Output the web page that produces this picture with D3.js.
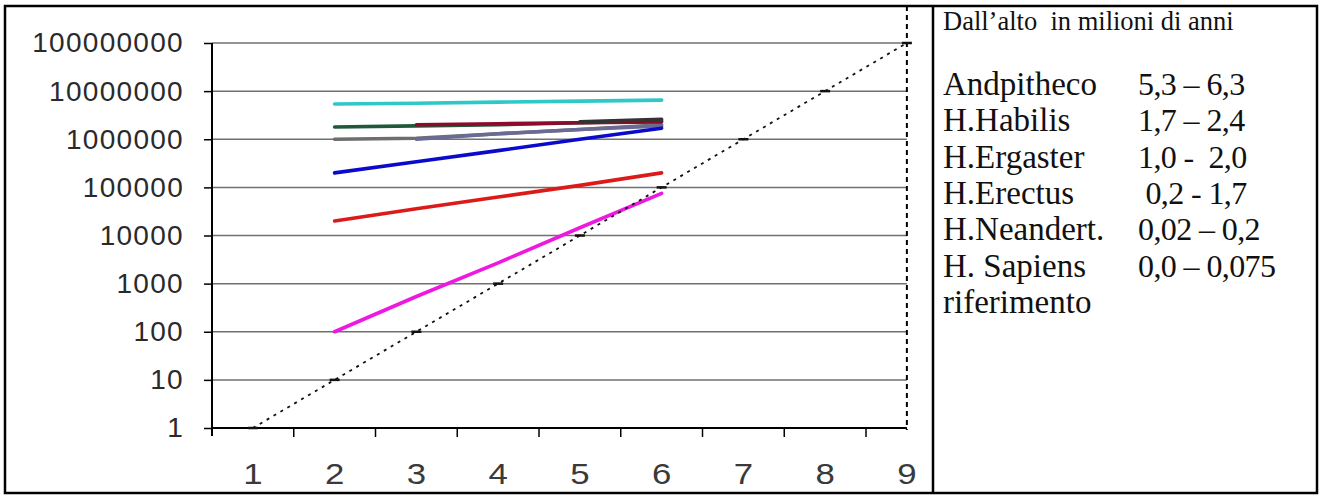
<!DOCTYPE html>
<html>
<head>
<meta charset="utf-8">
<script src="https://cdn.jsdelivr.net/npm/d3@7"></script>
<style>
  body { margin: 0; background: #fff; }
  svg { display: block; }
  .serif { font-family: "Liberation Serif", "Times New Roman", serif; fill: #111; white-space: pre; }
</style>
</head>
<body>
<svg id="chart" width="1320" height="496"></svg>
<script>
// data {{{ //
const categories = [1, 2, 3, 4, 5, 6, 7, 8, 9];
const yTicks = [1, 10, 100, 1000, 10000, 100000, 1000000, 10000000, 100000000];

// species lines, values at categories 2..6
const seriesCats = [2, 3, 4, 5, 6];
const andpitheco = [5.4e6, 5.6e6, 5.9e6, 6.2e6, 6.5e6];
const habilis    = [1.8e6, 1.9e6, 2.0e6, 2.2e6, 2.4e6];
const habilis2   = [null, 2.0e6, 2.1e6, 2.2e6, 2.3e6];
const ergaster   = [1.0e6, 1.05e6, 1.3e6, 1.6e6, 2.0e6];
const ergaster2  = [null, 1.0e6, 1.3e6, 1.6e6, 1.9e6];
const extra      = [null, null, null, 2.3e6, 2.6e6];
const erectus    = [2.0e5, 3.4e5, 5.8e5, 1.0e6, 1.7e6];
const neandert   = [2.0e4, 3.6e4, 6.3e4, 1.1e5, 2.0e5];
const sapiens    = [100, 540, 2700, 14500, 75000];
// riferimento: one decade per category
const riferimento = [1, 10, 100, 1000, 10000, 100000, 1000000, 10000000, 100000000];

const headerText = "Dall\u2019alto  in milioni di anni";
const legendNames = ["Andpitheco", "H.Habilis", "H.Ergaster", "H.Erectus", "H.Neandert.", "H. Sapiens", "riferimento"];
const legendRanges = ["5,3 \u2013 6,3", "1,7 \u2013 2,4", "1,0 -  2,0", " 0,2 - 1,7", "0,02 \u2013 0,2", "0,0 \u2013 0,075", ""];
// }}} data //

const svg = d3.select("#chart");

// frame {{{ //
svg.append("rect")
  .attr("x", 5).attr("y", 6).attr("width", 1312).attr("height", 487)
  .attr("fill", "none").attr("stroke", "#000").attr("stroke-width", 2.5);
svg.append("line")
  .attr("x1", 933).attr("x2", 933).attr("y1", 6).attr("y2", 493)
  .attr("stroke", "#000").attr("stroke-width", 2.5);
// }}} frame //

// scales {{{ //
const x = d3.scaleBand().domain(categories).range([212, 212 + 9 * 81.75]).padding(0);
const cx = d => x(d) + x.bandwidth() / 2;
const y = d3.scaleLog().domain([1, 1e8]).range([428, 43]);
const xEnd = cx(9);
// }}} scales //

// grid {{{ //
svg.append("g").selectAll("line")
  .data(yTicks.slice(1))
  .enter().append("line")
  .attr("x1", 212).attr("x2", xEnd)
  .attr("y1", d => y(d)).attr("y2", d => y(d))
  .attr("stroke", "#707070").attr("stroke-width", 1.5);
// }}} grid //

// axes {{{ //
const yAxis = svg.append("g")
  .attr("transform", "translate(212,0)")
  .call(d3.axisLeft(y).tickValues(yTicks).tickSize(8).tickPadding(20).tickFormat(d3.format("d")));
yAxis.select(".domain").attr("d", "M0,43V436").attr("stroke", "#000").attr("stroke-width", 2);
yAxis.selectAll(".tick line").attr("stroke", "#000").attr("stroke-width", 1.5);
yAxis.selectAll(".tick text")
  .attr("fill", "#2a2a2a")
  .style("font-family", "'Liberation Sans', Arial, sans-serif")
  .style("font-size", "28px")
  .style("letter-spacing", "1.3px");

const xAxis = svg.append("g")
  .attr("transform", "translate(0,428)")
  .call(d3.axisBottom(x).tickSize(0).tickPadding(0));
xAxis.select(".domain").remove();
xAxis.selectAll(".tick text")
  .attr("fill", "#3a3a3a")
  .attr("y", 0)
  .attr("dy", 0)
  .attr("transform", "translate(0,56) scale(1.2,1)")
  .style("font-family", "'Liberation Sans', Arial, sans-serif")
  .style("font-size", "29px");

svg.append("line")
  .attr("x1", 212).attr("x2", xEnd).attr("y1", 428).attr("y2", 428)
  .attr("stroke", "#000").attr("stroke-width", 2);
svg.append("g").selectAll("line")
  .data(categories.slice(1))
  .enter().append("line")
  .attr("x1", d => x(d)).attr("x2", d => x(d))
  .attr("y1", 428).attr("y2", 437)
  .attr("stroke", "#000").attr("stroke-width", 1.5);
// }}} axes //

// vertical dashed edge at last category {{{ //
svg.append("line")
  .attr("x1", xEnd).attr("x2", xEnd).attr("y1", 6).attr("y2", 430)
  .attr("stroke", "#000").attr("stroke-width", 2)
  .attr("stroke-dasharray", "5,4");
// }}} vertical dashed edge //

// species lines {{{ //
const lines = [
  { vals: andpitheco, color: "#2ec8c8" },
  { vals: habilis, color: "#1e5a3a" },
  { vals: ergaster, color: "#6e6e6e" },
  { vals: ergaster2, color: "#6a6a96" },
  { vals: habilis2, color: "#8e0a2a" },
  { vals: extra, color: "#333333" },
  { vals: erectus, color: "#0a0acc" },
  { vals: neandert, color: "#dd1a1a" },
  { vals: sapiens, color: "#ee18e0" }
];
const line = d3.line()
  .defined(d => d.v != null)
  .x(d => cx(d.c))
  .y(d => y(d.v));

lines.forEach(function(s) {
  let pts = seriesCats.map((c, i) => ({ c: c, v: s.vals[i] }));
  svg.append("path")
    .datum(pts)
    .attr("d", line)
    .attr("fill", "none")
    .attr("stroke", s.color)
    .attr("stroke-width", 3.6)
    .attr("stroke-linecap", "round");
});
// }}} species lines //

// reference dotted line {{{ //
const refPts = categories.map((c, i) => ({ c: c, v: riferimento[i] }));
svg.append("path")
  .datum(refPts)
  .attr("d", line)
  .attr("fill", "none")
  .attr("stroke", "#111")
  .attr("stroke-width", 1.8)
  .attr("stroke-dasharray", "3,5");
svg.append("g").selectAll("line")
  .data(refPts)
  .enter().append("line")
  .attr("x1", d => cx(d.c) - 5).attr("x2", d => cx(d.c) + 5)
  .attr("y1", d => y(d.v)).attr("y2", d => y(d.v))
  .attr("stroke", "#111").attr("stroke-width", 2.5);
// }}} reference dotted line //

// text panel {{{ //
svg.append("text")
  .attr("class", "serif")
  .attr("x", 943).attr("y", 30)
  .style("font-size", "26.5px")
  .text(headerText);

const leg = svg.append("g");
legendNames.forEach(function(name, i) {
  leg.append("text")
    .attr("class", "serif")
    .attr("x", 943).attr("y", 95 + i * 36.3)
    .style("font-size", "33px")
    .text(name);
  leg.append("text")
    .attr("class", "serif")
    .attr("x", 1138).attr("y", 95 + i * 36.3)
    .style("font-size", "32px")
    .style("letter-spacing", "-0.6px")
    .text(legendRanges[i]);
});
// }}} text panel //
</script>
</body>
</html>
